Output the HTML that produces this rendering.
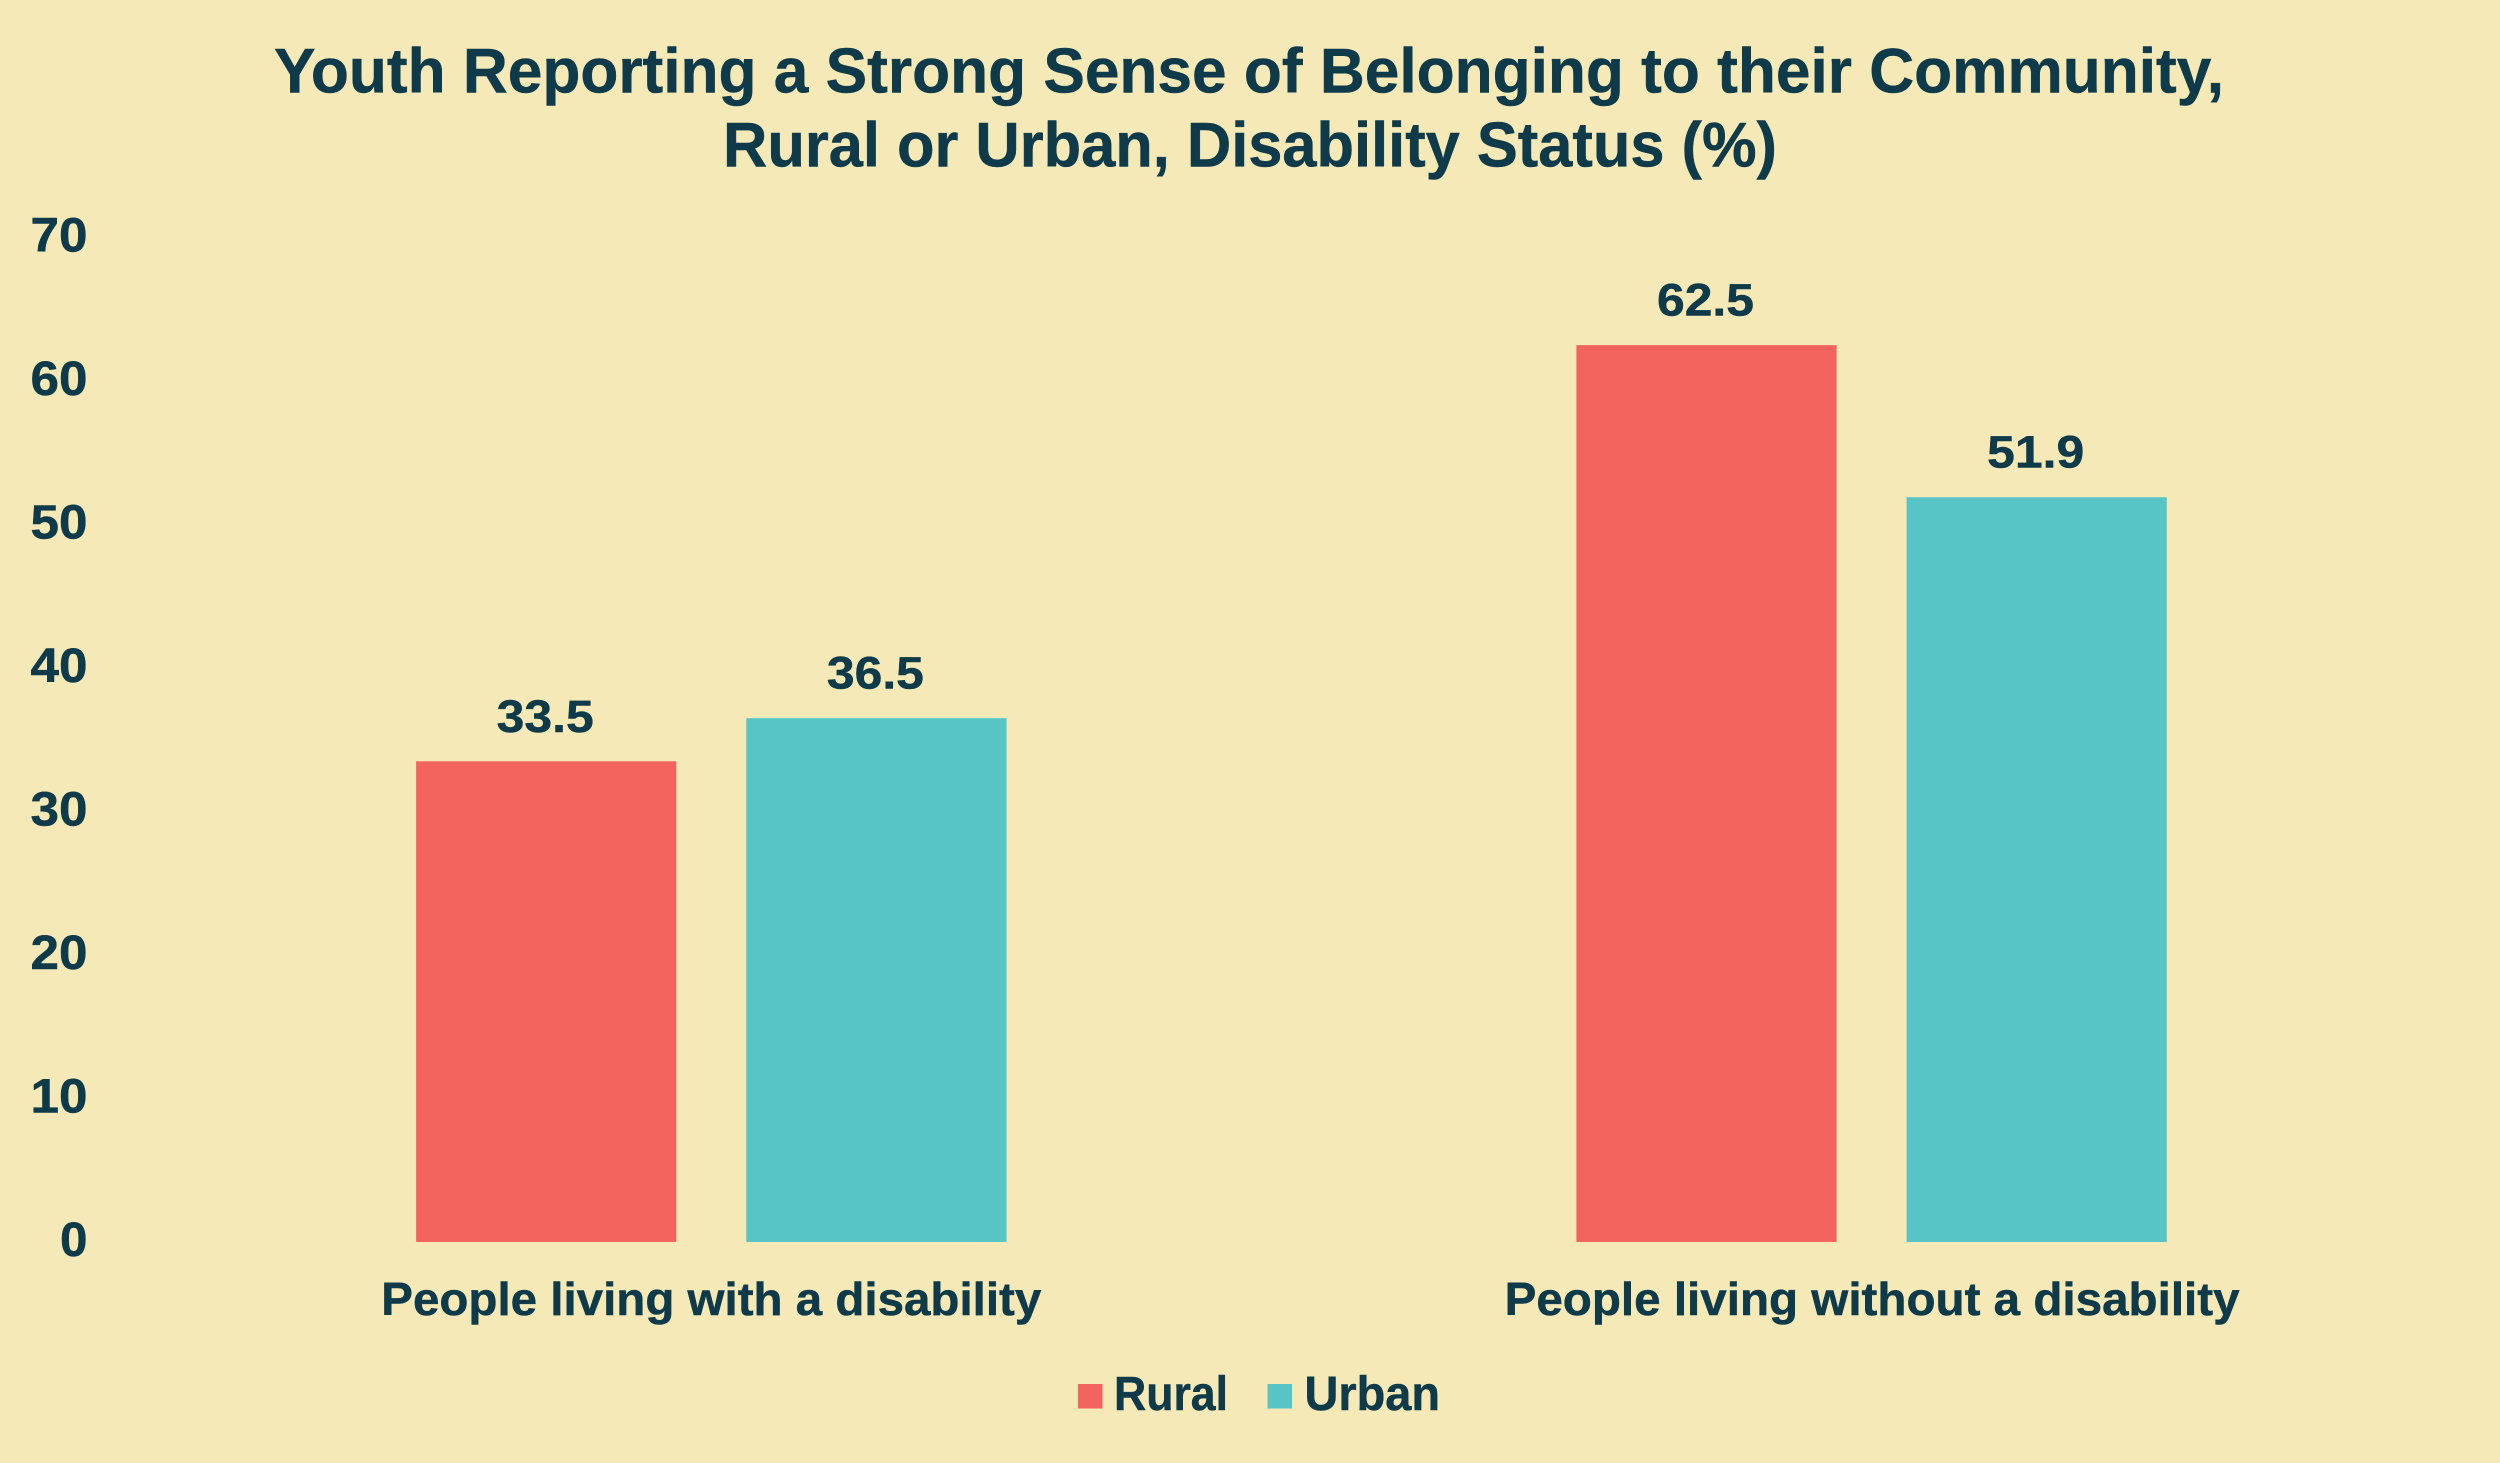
<!DOCTYPE html>
<html lang="en">
<head>
<meta charset="utf-8">
<title>Youth Reporting a Strong Sense of Belonging</title>
<style>
html,body{margin:0;padding:0;background:#F5EAB7;}
svg{display:block;}
text{font-family:"Liberation Sans",sans-serif;font-weight:700;fill:#0E3A4A;stroke:#0E3A4A;stroke-width:0.5px;}
</style>
</head>
<body>
<svg id="chart" xmlns="http://www.w3.org/2000/svg" width="2500" height="1463" viewBox="0 0 2500 1463">
  <rect x="0" y="0" width="2500" height="1463" fill="#F5EAB7"/>
  <text x="274" y="92.5" font-size="63" textLength="1950" lengthAdjust="spacingAndGlyphs">Youth Reporting a Strong Sense of Belonging to their Community,</text>
  <text x="723" y="166.5" font-size="63" textLength="1054" lengthAdjust="spacingAndGlyphs">Rural or Urban, Disability Status (%)</text>
  <g id="y-axis"></g>
  <g id="bars"></g>
  <g id="x-axis"></g>
  <g id="legend">
    <rect x="1078" y="1384" width="24.5" height="24.5" fill="#F3645E"/>
    <text x="1114" y="1410" font-size="48" textLength="114" lengthAdjust="spacingAndGlyphs">Rural</text>
    <rect x="1267.5" y="1384" width="24.5" height="24.5" fill="#57C4C6"/>
    <text x="1304.5" y="1410" font-size="48" textLength="135.5" lengthAdjust="spacingAndGlyphs">Urban</text>
  </g>
</svg>
<script>
const categories = ["People living with a disability", "People living without a disability"];
const ruralValues = [33.5, 62.5];
const urbanValues = [36.5, 51.9];
const valueLabels = { rural: ["33.5", "62.5"], urban: ["36.5", "51.9"] };
const yTicks = [0, 10, 20, 30, 40, 50, 60, 70];

const NS = "http://www.w3.org/2000/svg";
const RED = "#F3645E";
const TEAL = "#57C4C6";

function yScale(v) { return 1242 - 14.35 * v; }
function groupCenter(i) { return 711.3 + 1160.3 * i; }
const barWidth = 260.2;
const barGap = 70;

function make(tag, attrs, parent, content) {
  const el = document.createElementNS(NS, tag);
  for (const k in attrs) el.setAttribute(k, attrs[k]);
  if (content !== undefined) el.textContent = content;
  parent.appendChild(el);
  return el;
}

const yAxis = document.getElementById("y-axis");
yTicks.forEach(function (t) {
  const label = String(t);
  const el = make("text", {
    x: 87.5,
    y: yScale(t) + 14,
    "font-size": 48,
    "text-anchor": "end",
    textLength: label.length * 28.5 - (label.length === 1 ? 1 : 0),
    lengthAdjust: "spacingAndGlyphs"
  }, yAxis, label);
  
  
});

const barsGroup = document.getElementById("bars");
function drawBar(value, labelText, left, color, seriesName) {
  const top = yScale(value);
  const rect = make("rect", {
    x: left,
    y: top,
    width: barWidth,
    height: yScale(0) - top,
    fill: color
  }, barsGroup);
  
  
  const txt = make("text", {
    x: left + barWidth / 2 - 1,
    y: top - 29.5,
    "font-size": 45,
    "text-anchor": "middle",
    textLength: 97,
    lengthAdjust: "spacingAndGlyphs"
  }, barsGroup, labelText);
  
  
}

categories.forEach(function (c, i) {
  const center = groupCenter(i);
  drawBar(ruralValues[i], valueLabels.rural[i], center - barGap / 2 - barWidth, RED, 'rural');
  drawBar(urbanValues[i], valueLabels.urban[i], center + barGap / 2, TEAL, 'urban');
});

const xAxis = document.getElementById("x-axis");
categories.forEach(function (c, i) {
  const el = make("text", {
    x: groupCenter(i) + (i === 1 ? 0.5 : 0),
    y: 1315,
    "font-size": 46.5,
    "text-anchor": "middle",
    textLength: i === 0 ? 660 : 735,
    lengthAdjust: "spacingAndGlyphs"
  }, xAxis, c);
  
  
});
</script>
</body>
</html>
